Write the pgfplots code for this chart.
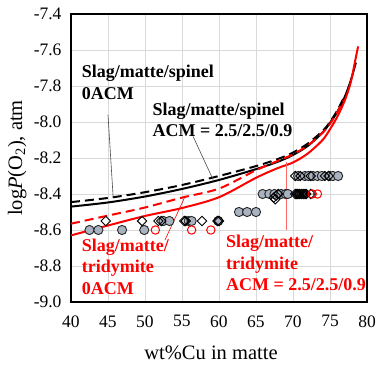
\documentclass[border=0pt]{standalone}
\usepackage{pgfplots}
\pgfplotsset{compat=1.18}
\usepackage{fontspec}
\setmainfont{Liberation Serif}
\definecolor{ptgray}{HTML}{A8B2C1}
\definecolor{gridgray}{HTML}{D9D9D9}
\begin{document}
\begin{tikzpicture}
\useasboundingbox (-71bp,-66bp) rectangle (305bp,302bp);
\begin{axis}[
  scale only axis,
  width=296bp, height=288bp,
  xmin=40, xmax=80, ymin=-9.0, ymax=-7.4,
  xtick={40,45,...,80},
  ytick={-9.0,-8.8,-8.6,-8.4,-8.2,-8.0,-7.8,-7.6,-7.4},
  major tick length=0pt,
  grid=major,
  major grid style={gridgray, line width=0.8bp},
  axis line style={black, line width=1.5bp},
  clip=false,
  /pgf/number format/assume math mode=true,
  yticklabel style={/pgf/number format/fixed, /pgf/number format/fixed zerofill, /pgf/number format/precision=1, font=\fontsize{17.5bp}{20bp}\selectfont, xshift=-6bp},
  xticklabel style={font=\fontsize{17.5bp}{20bp}\selectfont, yshift=-10bp},
  xlabel={wt\%Cu in matte},
  ylabel={log\textit{P}(O\textsubscript{2}), atm},
  xlabel style={font=\fontsize{20.5bp}{24bp}\selectfont, at={(axis description cs:0.473,-0.177)}, anchor=center},
  ylabel style={font=\fontsize{20.5bp}{24bp}\selectfont, at={(axis description cs:-0.182,0.5)}, anchor=center},
]
% gray filled circles
\addplot[only marks, mark=*, mark size=4.6bp, mark options={fill=ptgray, draw=black!85, line width=0.9bp}] coordinates {
(42.5,-8.6)(43.7,-8.6)(46.9,-8.6)(49.9,-8.6)
(52.5,-8.55)(53.3,-8.55)(55.9,-8.55)(56.3,-8.55)(59.9,-8.55)
(62.7,-8.5)(63.8,-8.5)(65.0,-8.5)
(65.9,-8.4)(66.8,-8.4)(67.5,-8.4)(68.4,-8.4)(69.0,-8.4)(69.3,-8.4)
(70.7,-8.3)(71.6,-8.3)(72.1,-8.3)(72.7,-8.3)(73.3,-8.3)(73.9,-8.3)(75.0,-8.3)(75.4,-8.3)(76.1,-8.3)
};
% open diamonds
\addplot[only marks, mark=square, mark size=3.3bp, mark options={rotate=45, draw=black, line width=0.9bp}] coordinates {
(44.7,-8.55)(49.6,-8.55)(51.8,-8.55)(52.2,-8.55)(55.3,-8.55)(55.5,-8.55)(57.7,-8.55)(59.8,-8.55)(60.0,-8.55)
(67.4,-8.42)(67.7,-8.41)(67.6,-8.43)(68.0,-8.4)
(70.3,-8.3)(71.0,-8.3)(72.4,-8.3)(74.3,-8.3)(74.8,-8.3)
(70.3,-8.4)(70.5,-8.4)(70.6,-8.4)(70.8,-8.4)(70.9,-8.4)(71.1,-8.4)(71.2,-8.4)(71.4,-8.4)(71.5,-8.4)(71.7,-8.4)(71.8,-8.4)(72.4,-8.4)
};
% red open circles
\addplot[only marks, mark=o, mark size=4.2bp, mark options={draw=red, line width=1bp}] coordinates {
(51.4,-8.6)(56.3,-8.6)(58.9,-8.6)(72.6,-8.4)(73.3,-8.4)
};
% black solid: slag/matte/spinel ACM
\addplot[black, line width=2bp, smooth, no marks] coordinates {
(40,-8.470)(45,-8.447)(50,-8.414)(55,-8.372)(60,-8.322)(65,-8.262)(68,-8.220)(70,-8.183)(72,-8.133)(74,-8.058)(75,-8.005)(76,-7.943)(77,-7.86)(77.8,-7.77)(78.5,-7.67)
};
% black dashed: slag/matte/spinel 0ACM
\addplot[black, line width=2bp, dash pattern=on 9bp off 5bp, smooth, no marks] coordinates {
(40,-8.445)(45,-8.422)(50,-8.390)(55,-8.350)(60,-8.300)(65,-8.245)(68,-8.205)(70,-8.170)(72,-8.120)(74,-8.050)(75,-8.000)(76,-7.935)(76.8,-7.87)
};
% red dashed: tridymite 0ACM
\addplot[red, line width=2bp, dash pattern=on 9bp off 5bp, smooth, no marks] coordinates {
(40,-8.565)(45,-8.520)(50,-8.475)(55,-8.420)(60,-8.370)(65,-8.268)(68,-8.215)(70,-8.180)(72,-8.130)(74,-8.060)(75,-8.010)(76,-7.945)(76.8,-7.88)
};
% red solid: tridymite ACM
\addplot[red, line width=2bp, smooth, no marks] coordinates {
(40,-8.630)(45,-8.575)(50,-8.522)(55,-8.478)(60,-8.418)(65,-8.310)(68,-8.255)(70,-8.225)(72,-8.175)(74,-8.100)(75,-8.040)(76,-7.970)(77,-7.880)(77.8,-7.780)(78.4,-7.660)(78.8,-7.580)
};
% leader lines
\draw[black!70, line width=0.6bp] (axis cs:45.0,-7.96) -- (axis cs:45.7,-8.42);
\draw[black!70, line width=0.6bp] (axis cs:56.5,-8.08) -- (axis cs:59.2,-8.32);
\draw[red, line width=0.6bp] (axis cs:52.7,-8.656) -- (axis cs:55.4,-8.415);
\draw[red!60, line width=0.8bp] (axis cs:69.15,-8.22) -- (axis cs:69.15,-8.60);
% labels
\node[anchor=west, inner sep=0pt, align=left, font=\fontsize{18bp}{21.5bp}\selectfont\bfseries] at (axis cs:41.45,-7.78) {Slag/matte/spinel\\0ACM};
\node[anchor=west, inner sep=0pt, align=left, font=\fontsize{18bp}{21.5bp}\selectfont\bfseries] at (axis cs:51.0,-7.987) {Slag/matte/spinel\\ACM = 2.5/2.5/0.9};
\node[anchor=west, inner sep=0pt, align=left, text=red, font=\fontsize{18bp}{21.5bp}\selectfont\bfseries] at (axis cs:41.45,-8.803) {Slag/matte/\\tridymite\\0ACM};
\node[anchor=west, inner sep=0pt, align=left, text=red, font=\fontsize{18bp}{21.5bp}\selectfont\bfseries] at (axis cs:60.95,-8.785) {Slag/matte/\\tridymite\\ACM = 2.5/2.5/0.9};
\end{axis}
\end{tikzpicture}
\end{document}
